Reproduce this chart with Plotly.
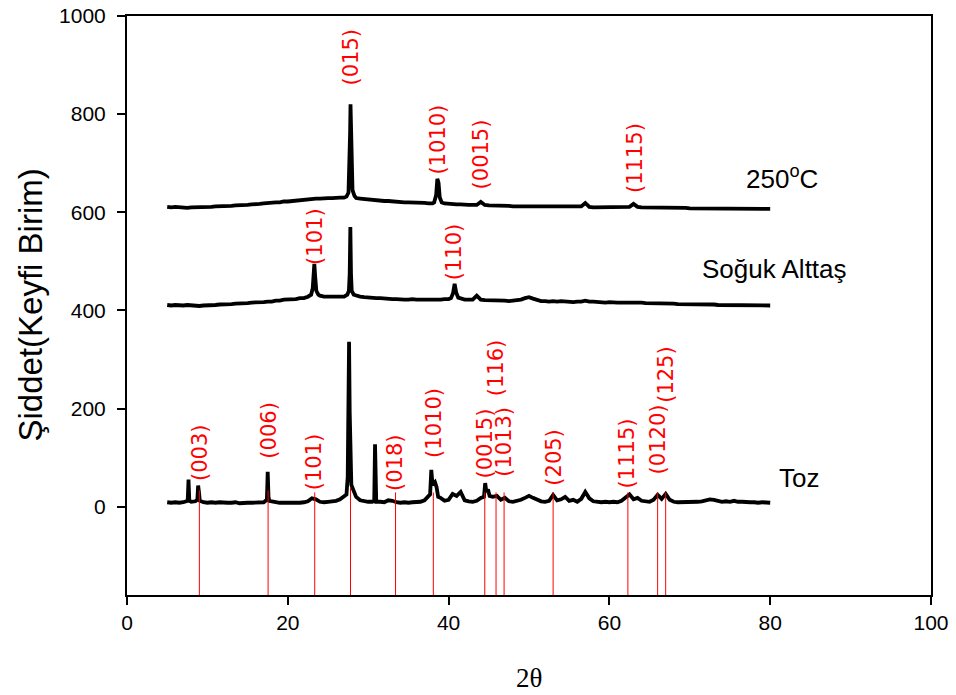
import numpy as np
import plotly.graph_objects as go

# ---- scan grid (2-theta, degrees) ----
scan_x = np.round(np.arange(5.0, 80.0001, 0.5), 2)

# ---- Toz (powder) background intensities on the grid ----
toz_y = [9, 8, 9, 8, 9, 10, 10, 11, 11, 9,
         8, 9, 8, 9, 8, 8, 8, 9, 7, 8,
         8, 8, 8, 9, 9, 10, 11, 9, 8, 8,
         8, 7, 8, 8, 9, 11, 17, 15, 10, 9,
         10, 11, 12, 15, 20, 30, 40, 20, 13, 11,
         10, 10, 10, 10, 9, 13, 12, 9, 8, 9,
         8, 9, 9, 10, 13, 22, 40, 40, 18, 12,
         14, 26, 22, 30, 13, 11, 10, 12, 18, 30,
         30, 20, 22, 14, 18, 11, 10, 12, 14, 18,
         22, 18, 14, 11, 10, 12, 24, 13, 15, 20,
         12, 14, 10, 16, 30, 17, 11, 10, 9, 10,
         9, 10, 9, 12, 18, 25, 15, 18, 12, 11,
         10, 14, 24, 16, 26, 14, 10, 9, 9, 9,
         9, 9, 10, 11, 13, 15, 14, 11, 10, 11,
         10, 12, 10, 10, 9, 9, 9, 8, 9, 8,
         8]
toz_peaks = [
    [(7.55, 12), (7.65, 55), (7.75, 12)],
    [(8.75, 14), (8.85, 43), (8.95, 30), (9.05, 12)],
    [(17.4, 14), (17.5, 71), (17.6, 20), (17.7, 12)],
    [(27.3, 25), (27.45, 60), (27.55, 192), (27.62, 336), (27.7, 192), (27.8, 60), (27.9, 45)],
    [(30.75, 12), (30.85, 127), (30.95, 14)],
    [(37.7, 25), (37.85, 75), (38.0, 45), (38.3, 50), (38.5, 40), (38.7, 20)],
    [(44.4, 20), (44.55, 48), (44.7, 30), (44.9, 35), (45.1, 22)],
]

# ---- Soğuk Alttaş (cold substrate) ----
cold_y = [411, 410, 411, 410, 410, 411, 410, 410, 409, 410,
          410, 411, 411, 412, 412, 413, 413, 414, 414, 415,
          415, 416, 416, 417, 417, 418, 418, 420, 420, 422,
          422, 423, 423, 425, 425, 428, 433, 432, 430, 428,
          428, 427, 427, 427, 428, 432, 432, 430, 428, 427,
          426, 426, 425, 425, 424, 424, 423, 423, 422, 422,
          422, 423, 422, 422, 421, 421, 421, 422, 422, 423,
          423, 430, 430, 424, 422, 422, 422, 430, 422, 421,
          421, 420, 420, 420, 420, 419, 420, 420, 422, 425,
          427, 424, 421, 419, 419, 418, 419, 418, 419, 418,
          418, 417, 418, 418, 420, 418, 418, 417, 417, 416,
          417, 416, 416, 416, 416, 416, 417, 416, 416, 415,
          415, 415, 415, 414, 414, 414, 414, 413, 413, 413,
          413, 412, 412, 412, 412, 412, 412, 411, 411, 411,
          411, 411, 411, 411, 411, 410, 410, 410, 410, 410,
          410]
cold_peaks = [
    [(22.9, 432), (23.1, 445), (23.2, 480), (23.3, 495), (23.4, 470), (23.55, 440), (23.8, 432)],
    [(27.4, 432), (27.6, 440), (27.7, 475), (27.78, 570), (27.86, 475), (27.95, 440), (28.2, 432)],
    [(40.3, 425), (40.55, 435), (40.75, 454), (40.95, 436), (41.2, 426)],
]

# ---- 250°C substrate ----
hot_y = [611, 610, 611, 610, 610, 609, 610, 610, 611, 611,
         611, 611, 612, 612, 612, 613, 613, 614, 614, 615,
         615, 616, 616, 617, 618, 619, 619, 620, 620, 622,
         622, 623, 623, 625, 625, 626, 627, 628, 628, 629,
         629, 629, 630, 630, 630, 632, 632, 629, 628, 627,
         626, 625, 625, 624, 623, 623, 622, 622, 621, 620,
         620, 620, 619, 619, 619, 618, 618, 620, 620, 618,
         617, 617, 616, 616, 615, 615, 615, 615, 621, 615,
         614, 614, 613, 613, 613, 613, 612, 612, 612, 612,
         612, 612, 611, 611, 611, 611, 611, 611, 611, 611,
         611, 611, 611, 612, 619, 611, 610, 610, 610, 610,
         610, 610, 610, 610, 610, 611, 617, 611, 610, 610,
         609, 609, 609, 609, 609, 609, 609, 609, 609, 609,
         608, 608, 608, 608, 608, 608, 608, 608, 608, 608,
         608, 608, 607, 607, 607, 607, 607, 607, 607, 607,
         607]
hot_peaks = [
    [(27.3, 632), (27.55, 640), (27.68, 700), (27.75, 762), (27.8, 820), (27.86, 762), (27.93, 690), (28.05, 645), (28.3, 633)],
    [(38.2, 620), (38.45, 635), (38.6, 668), (38.75, 660), (38.9, 630), (39.15, 620)],
]

# ---- reference (hkl) line positions ----
ref_pos = [9.0, 17.55, 23.35, 27.8, 33.4, 38.1, 44.5, 45.9, 46.9, 53.0, 62.3, 66.0, 67.0]
ref_top = [33, 33, 29, 39, 29, 29, 29, 29, 29, 29, 29, 29, 29]
ref_bottom = -180

# ---- hkl labels: text, 2theta, intensity at label base ----
hkl_text = ["(003)", "(006)", "(101)", "(018)", "(1010)", "(0015)", "(116)", "(1013)",
            "(205)", "(1115)", "(0120)", "(125)",
            "(015)", "(1010)", "(0015)", "(1115)",
            "(101)", "(110)"]
hkl_x = [9.0, 17.55, 23.35, 33.4, 38.1, 44.5, 45.9, 46.9,
         53.0, 62.3, 66.0, 67.0,
         27.9, 38.7, 44.0, 63.1,
         23.4, 40.7]
hkl_y = [49, 94, 29, 27, 96, 53, 221, 57,
         39, 33, 61, 207,
         855, 673, 642, 636,
         489, 458]

# ---- sample names ----
sample_text = ["250<sup>o</sup>C", "Soğuk Alttaş", "Toz"]
sample_x = [76.8, 71.3, 80.9]
sample_y = [670, 485, 59]


def merge(grid_x, grid_y, peaks):
    pts = list(zip(grid_x, grid_y))
    for pk in peaks:
        lo, hi = pk[0][0], pk[-1][0]
        pts = [p for p in pts if not (lo <= p[0] <= hi)]
        pts += pk
    pts.sort(key=lambda p: p[0])
    return [p[0] for p in pts], [p[1] for p in pts]


fig = go.Figure()
for ys, pk in [(toz_y, toz_peaks), (cold_y, cold_peaks), (hot_y, hot_peaks)]:
    xx, yy = merge(scan_x, ys, pk)
    fig.add_trace(go.Scatter(x=xx, y=yy, mode="lines",
                             line=dict(color="black", width=3.8), showlegend=False))

lx, ly = [], []
for p, t in zip(ref_pos, ref_top):
    lx += [p, p, None]
    ly += [ref_bottom, t, None]
fig.add_trace(go.Scatter(x=lx, y=ly, mode="lines",
                         line=dict(color="#ff0000", width=1), showlegend=False))

ann = []
for t, x, y in zip(hkl_text, hkl_x, hkl_y):
    ann.append(dict(x=x, y=y, xref="x", yref="y", text=t, showarrow=False,
                    textangle=-90, xanchor="center", yanchor="bottom",
                    font=dict(family="DejaVu Sans", size=21, color="#ff0000")))
for t, x, y in zip(sample_text, sample_x, sample_y):
    ann.append(dict(x=x, y=y, xref="x", yref="y", text=t, showarrow=False,
                    xanchor="left", yanchor="middle",
                    font=dict(family="Liberation Sans", size=26, color="black")))
ann.append(dict(x=-0.1206, y=0.5, xref="paper", yref="paper", text="Şiddet(Keyfi Birim)",
                showarrow=False, textangle=-90, xanchor="center", yanchor="middle",
                font=dict(family="Liberation Sans", size=33, color="black")))
ann.append(dict(x=0.5, y=-0.143, xref="paper", yref="paper", text="2θ", showarrow=False,
                xanchor="center", yanchor="middle",
                font=dict(family="Liberation Serif", size=27, color="black")))

axis_common = dict(showline=True, linecolor="black", linewidth=2, mirror=True,
                   ticks="outside", ticklen=8, tickwidth=2, tickcolor="black",
                   showgrid=False, zeroline=False, automargin=False,
                   tickfont=dict(family="Liberation Sans", size=21, color="black"))
fig.update_layout(
    width=956, height=695,
    margin=dict(l=127, r=25, t=16, b=100, autoexpand=False),
    plot_bgcolor="white", paper_bgcolor="white",
    xaxis=dict(range=[0, 100], tickvals=[0, 20, 40, 60, 80, 100], ticklabelstandoff=0, **axis_common),
    yaxis=dict(range=[-180, 1000], tickvals=[0, 200, 400, 600, 800, 1000], ticklabelstandoff=7, **axis_common),
    annotations=ann,
)
fig.write_html("out.html")
